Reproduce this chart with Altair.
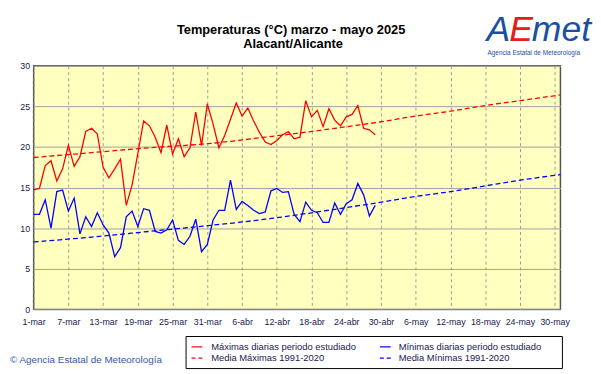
import altair as alt
import pandas as pd

# ---- data ----
tmax = [14.7, 14.9, 17.7, 18.3, 15.8, 17.3, 20.2, 17.6, 18.8, 21.9,
        22.3, 21.6, 17.5, 16.2, 17.3, 18.5, 12.8, 15.3, 19.2, 23.2,
        22.6, 21.2, 19.3, 22.7, 19.1, 21.0, 18.8, 19.9, 24.3, 20.2,
        25.3, 22.8, 19.9, 21.4, 23.4, 25.4, 23.8, 24.8, 23.2, 21.8,
        20.6, 20.3, 20.8, 21.5, 21.9, 21.0, 21.2, 25.7, 23.7, 24.5,
        22.5, 24.7, 23.3, 22.6, 23.7, 24.0, 25.1, 22.3, 22.1, 21.5]
tmin = [11.7, 11.7, 13.5, 10.0, 14.5, 14.7, 12.1, 13.7, 9.3, 11.4,
        10.2, 11.9, 10.4, 9.4, 6.5, 7.6, 11.4, 12.1, 10.2, 12.4,
        12.2, 9.6, 9.4, 9.8, 11.0, 8.5, 8.0, 9.0, 11.1, 7.1,
        8.0, 11.0, 12.2, 12.2, 15.9, 12.3, 13.3, 12.8, 12.2, 11.8,
        12.0, 14.6, 14.9, 14.4, 14.5, 11.7, 10.8, 13.2, 12.2, 11.9,
        10.7, 10.7, 13.1, 11.7, 13.0, 13.5, 15.5, 14.1, 11.5, 12.8]

norm_days = [0, 10, 20, 30, 40, 50, 60, 66, 72, 78, 84, 91]
norm_max = [18.7, 19.3, 19.9, 20.4, 21.2, 22.1, 23.1, 23.8, 24.4, 25.1, 25.7, 26.4]
norm_min = [8.3, 8.9, 9.6, 10.3, 11.1, 12.1, 13.2, 13.9, 14.5, 15.2, 15.9, 16.6]

tick_days = [0, 6, 12, 18, 24, 30, 36, 42, 48, 54, 60, 66, 72, 78, 84, 90]
tick_labels = ["1-mar", "7-mar", "13-mar", "19-mar", "25-mar", "31-mar",
               "6-abr", "12-abr", "18-abr", "24-abr", "30-abr", "6-may",
               "12-may", "18-may", "24-may", "30-may"]

y_ticks = [0, 5, 10, 15, 20, 25, 30]

legend_labels = ["Máximas diarias periodo estudiado", "Mínimas diarias periodo estudiado",
                 "Media Máximas 1991-2020", "Media Mínimas 1991-2020"]

title1 = "Temperaturas (°C) marzo  - mayo 2025"
title2 = "Alacant/Alicante"

# ---- frames ----
obs = pd.DataFrame({"day": list(range(len(tmax))), "tmax": tmax, "tmin": tmin})
norm = pd.DataFrame({"day": norm_days, "nmax": norm_max, "nmin": norm_min})

FONT = "Liberation Sans"
LBL = "#1a1a50"
RED = "#FF0000"
BLUE = "#0000FF"

label_map = "{" + ",".join(f"'{d}':'{l}'" for d, l in zip(tick_days, tick_labels)) + "}"

xenc = alt.X("day:Q", scale=alt.Scale(domain=[0, 91], nice=False, zero=False),
             axis=alt.Axis(values=tick_days, labelExpr=f"{label_map}[datum.value]",
                           title=None, ticks=False, domain=False, grid=True,
                           gridDash=[3, 3], gridColor="#9a9a9a", labelPadding=8,
                           labelFont=FONT, labelFontSize=9, labelColor=LBL,
                           labelFlush=False, labelOverlap=False))

def yenc(field):
    return alt.Y(f"{field}:Q", scale=alt.Scale(domain=[0, 30], nice=False),
                 axis=alt.Axis(values=y_ticks, title=None, ticks=False, domain=False,
                               grid=True, gridColor="#a0a0a0", labelPadding=4,
                               labelFont=FONT, labelFontSize=9, labelColor=LBL))

l_max = alt.Chart(obs).mark_line(color=RED, strokeWidth=1.3).encode(x=xenc, y=yenc("tmax"))
l_min = alt.Chart(obs).mark_line(color=BLUE, strokeWidth=1.3).encode(x=xenc, y=yenc("tmin"))
n_max = alt.Chart(norm).mark_line(color=RED, strokeWidth=1.3, strokeDash=[5, 3],
                                  interpolate="monotone").encode(x=xenc, y=yenc("nmax"))
n_min = alt.Chart(norm).mark_line(color=BLUE, strokeWidth=1.3, strokeDash=[5, 3],
                                  interpolate="monotone").encode(x=xenc, y=yenc("nmin"))

one = pd.DataFrame({"k": [0]})

def txt(s, x, y, size=9, color=LBL, align="left", weight="normal", style="normal", baseline="middle"):
    return alt.Chart(one).mark_text(text=s, font=FONT, fontSize=size, color=color,
                                    align=align, baseline=baseline, fontWeight=weight,
                                    fontStyle=style).encode(x=alt.value(x), y=alt.value(y))

def seg(x1, x2, y, color, dash=None):
    kw = dict(color=color, strokeWidth=1.2)
    if dash:
        kw["strokeDash"] = dash
    return alt.Chart(one).mark_rule(**kw).encode(x=alt.value(x1), x2=alt.value(x2), y=alt.value(y))

titles = [
    txt(title1, 261, -32, size=13, color="black", align="center", weight="bold", baseline="alphabetic"),
    txt(title2, 263, -18, size=13, color="black", align="center", weight="bold", baseline="alphabetic"),
]

logo = [
    txt("A", 459, -25, size=36, color="#1B4FA0", style="italic", baseline="alphabetic"),
    txt("E", 482, -25, size=36, color="#E0201A", style="italic", baseline="alphabetic"),
    txt("met", 505, -25, size=36, color="#1B4FA0", style="italic", baseline="alphabetic"),
    txt("Agencia Estatal de Meteorología", 507, -13, size=6.5, color="#1B4FA0", align="center"),
]

box = alt.Chart(one).mark_rect(fill="white", stroke="black", strokeWidth=1).encode(
    x=alt.value(154.5), x2=alt.value(536), y=alt.value(274.5), y2=alt.value(307))

legend = [
    box,
    seg(160, 171, 285, RED), txt(legend_labels[0], 180, 285, size=9.5),
    seg(351, 362, 285, BLUE), txt(legend_labels[1], 370, 285, size=9.5),
    seg(160, 171, 296.5, RED, [4, 3]), txt(legend_labels[2], 180, 296.5, size=9.5),
    seg(351, 362, 296.5, BLUE, [4, 3]), txt(legend_labels[3], 370, 296.5, size=9.5),
]

copyright_ = txt("© Agencia Estatal de Meteorología", -24, 298.5, size=10, color="#3858A8")

chart = alt.layer(n_max, n_min, l_max, l_min, *titles, *logo, *legend, copyright_).properties(
    width=534, height=247,
    autosize=alt.AutoSizeParams(type="none"),
    padding={"left": 26, "top": 56, "right": 33, "bottom": 63},
    background="white",
).configure_view(fill="#FFFFC0", stroke="#555555", strokeWidth=1.5)

chart.save("out.html", embed_options={"renderer": "svg", "actions": False})
